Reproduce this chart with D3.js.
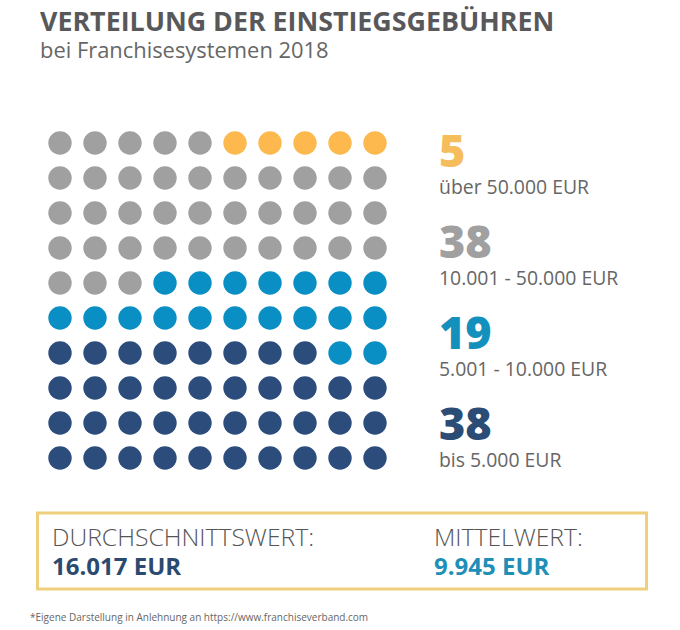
<!DOCTYPE html>
<html>
<head>
<meta charset="utf-8">
<script src="https://cdn.jsdelivr.net/npm/d3@7"></script>
<style>
  html, body { margin: 0; background: #fff; }
  svg { display: block; }
  text { font-family: "Open Sans", sans-serif; }
</style>
</head>
<body>
<svg id="chart" width="680" height="630"></svg>
<script>
// filled from the bottom row upwards
const counts = [38, 19, 38, 5];
const numbers = ['38', '19', '38', '5'];
const ranges = ['bis 5.000 EUR', '5.001 - 10.000 EUR', '10.001 - 50.000 EUR', 'über 50.000 EUR'];
const colors = ['#2c4c7c', '#0a8fc4', '#a0a0a0', '#fdb94d'];
const numberColors = ['#2b4c75', '#1490bd', '#a0a0a0', '#f5bd5c'];
// left to right order inside a row holding two groups
const columnRank = [0, 2, 1, 3];
const gridRows = d3.range(10);
const gridCols = d3.range(10);
const summaryLabels = ['DURCHSCHNITTSWERT:', 'MITTELWERT:'];
const summaryValues = ['16.017 EUR', '9.945 EUR'];
const summaryColors = ['#2a4a70', '#1f8fb8'];

const svg = d3.select('#chart');

svg.append('text').attr('x', 40).attr('y', 31)
  .attr('font-size', 26.8).attr('font-weight', 700).attr('fill', '#58585a')
  .text('VERTEILUNG DER EINSTIEGSGEBÜHREN');
svg.append('text').attr('x', 40).attr('y', 58)
  .attr('font-size', 21.9).attr('fill', '#666')
  .text('bei Franchisesystemen 2018');

const x = d3.scalePoint().domain(gridCols).range([60, 375]);
const y = d3.scalePoint().domain(gridRows).range([458, 143]);

// one group index per unit, cut into rows and sorted inside each row
const units = counts.flatMap((n, i) => d3.range(n).map(() => i));
const cells = gridRows.flatMap((row) => units
  .slice(row * gridCols.length, (row + 1) * gridCols.length)
  .sort((a, b) => columnRank[a] - columnRank[b])
  .map((group, col) => ({ group, row, col })));

svg.append('g').selectAll('circle')
  .data(cells)
  .join('circle')
  .attr('cx', (d) => x(d.col))
  .attr('cy', (d) => y(d.row))
  .attr('r', 11.7)
  .attr('fill', (d) => colors[d.group]);

// legend runs top to bottom, reverse of the fill order
const legendY = d3.scalePoint().domain([3, 2, 1, 0]).range([167, 440]);

const legend = svg.append('g').selectAll('g')
  .data(counts.map((d, i) => i))
  .join('g')
  .attr('transform', (i) => `translate(439, ${legendY(i)})`);

legend.append('text')
  .attr('font-size', 45).attr('font-weight', 800)
  .attr('fill', (i) => numberColors[i])
  .text((i) => numbers[i]);

legend.append('text')
  .attr('y', 27)
  .attr('font-size', 19.4).attr('fill', '#666')
  .text((i) => ranges[i]);

svg.append('rect')
  .attr('x', 37.5).attr('y', 513)
  .attr('width', 609).attr('height', 76)
  .attr('fill', 'none').attr('stroke', '#f0cf7c').attr('stroke-width', 3);

const summaryX = d3.scalePoint().domain(summaryLabels).range([52, 434]);

const summary = svg.append('g').selectAll('g')
  .data(summaryLabels)
  .join('g')
  .attr('transform', (d) => `translate(${summaryX(d)}, 0)`);

summary.append('text')
  .attr('y', 546)
  .attr('font-size', 24.7).attr('font-weight', 300).attr('fill', '#555')
  .text((d) => d);

summary.append('text')
  .attr('y', 575)
  .attr('font-size', 24).attr('font-weight', 700)
  .attr('fill', (d, i) => summaryColors[i])
  .text((d, i) => summaryValues[i]);

svg.append('text').attr('x', 30).attr('y', 621)
  .attr('font-size', 10).attr('fill', '#666')
  .text('*Eigene Darstellung in Anlehnung an https://www.franchiseverband.com');
</script>
</body>
</html>
